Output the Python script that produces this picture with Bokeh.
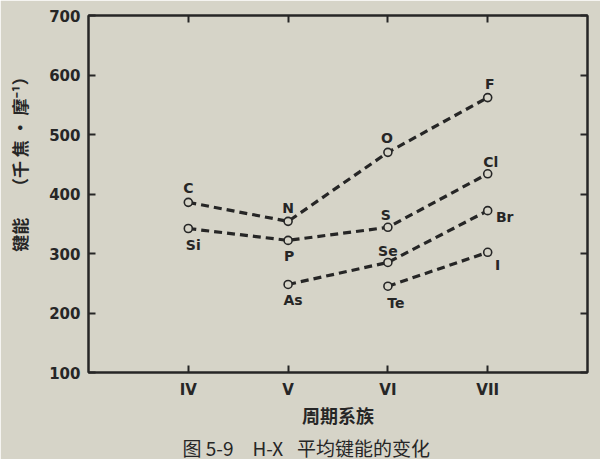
from bokeh.plotting import figure
from bokeh.models import ColumnDataSource, Range1d, LinearAxis, FixedTicker, Title
from bokeh.core.properties import value
from bokeh.embed import file_html
from bokeh.resources import INLINE

# ---- data -------------------------------------------------------------
group_ticks = ["IV", "V", "VI", "VII"]
y_ticks = [100, 200, 300, 400, 500, 600, 700]

p2_groups = ["IV", "V", "VI", "VII"]
p2_elements = ["C", "N", "O", "F"]
p2_energy = [386, 354, 470, 562]

p3_groups = ["IV", "V", "VI", "VII"]
p3_elements = ["Si", "P", "S", "Cl"]
p3_energy = [342, 322, 344, 434]

p4_groups = ["V", "VI", "VII"]
p4_elements = ["As", "Se", "Br"]
p4_energy = [248, 285, 372]

p5_groups = ["VI", "VII"]
p5_elements = ["Te", "I"]
p5_energy = [245, 302]

y_label = "\u3000\u3000\u3000\u3000键能\u3000\u2004（千 焦 · 摩⁻¹）"
x_label = "周期系族"
caption = "图 5-9\u3000H-X\u2002 平均键能的变化"

# label placement (screen px offsets from the point)
label_offsets = {
    "C": (0, -14), "N": (0, -13), "O": (-1, -14), "F": (2, -14),
    "Si": (5, 16), "P": (1, 16), "S": (-2, -12), "Cl": (3, -12),
    "As": (5, 16), "Se": (0, -11), "Br": (17, 6),
    "Te": (8, 17), "I": (10, 13),
}

# ---- style ------------------------------------------------------------
PAPER = "#d6d4c8"
INK = "#262626"
SANS = "DejaVu Sans"
CJK = "Noto Sans CJK SC"

pos = {g: i + 1 for i, g in enumerate(group_ticks)}

p = figure(frame_width=499, frame_height=357, output_backend="svg",
           toolbar_location=None,
           x_range=Range1d(0, 5), y_range=Range1d(100, 700),
           min_border_left=88, min_border_right=13, min_border_top=15,
           min_border_bottom=0)
p.background_fill_color = PAPER
p.border_fill_color = PAPER
p.outline_line_color = INK
p.outline_line_width = 2
p.xgrid.visible = False
p.ygrid.visible = False

series = [(p2_groups, p2_elements, p2_energy),
          (p3_groups, p3_elements, p3_energy),
          (p4_groups, p4_elements, p4_energy),
          (p5_groups, p5_elements, p5_energy)]

for groups, elems, energy in series:
    src = ColumnDataSource(dict(
        x=[pos[g] for g in groups], y=energy, t=elems,
        dx=[label_offsets[e][0] for e in elems],
        dy=[label_offsets[e][1] for e in elems]))
    p.line("x", "y", source=src, line_color=INK, line_width=3.2,
           line_dash="8 5")
    p.scatter("x", "y", source=src, size=8, fill_color=PAPER,
              line_color=INK, line_width=1.6)
    p.text("x", "y", text="t", source=src, x_offset="dx", y_offset="dy",
           text_align="center", text_baseline="middle",
           text_font=value(SANS), text_font_size="14px",
           text_font_style="bold", text_color=INK)

# axes
xa = p.xaxis[0]
xa.ticker = FixedTicker(ticks=[pos[g] for g in group_ticks])
xa.major_label_overrides = {pos[g]: g for g in group_ticks}
ya = p.yaxis[0]
ya.ticker = FixedTicker(ticks=y_ticks)

for ax in (xa, ya):
    ax.axis_line_color = INK
    ax.axis_line_width = 2
    ax.major_tick_in = 7
    ax.major_tick_out = 0
    ax.major_tick_line_color = INK
    ax.major_tick_line_width = 2
    ax.minor_tick_line_color = None
    ax.major_label_text_font = SANS
    ax.major_label_text_font_size = "15px"
    ax.major_label_text_font_style = "bold"
    ax.major_label_text_color = INK
    ax.major_label_standoff = 8
    ax.axis_label_text_font = CJK
    ax.axis_label_text_font_style = "bold"
    ax.axis_label_text_color = INK

xa.axis_label = x_label
xa.axis_label_text_font_size = "18px"
xa.axis_label_standoff = 0
ya.axis_label = y_label
ya.axis_label_text_font_size = "17px"
ya.axis_label_standoff = 14

# mirrored ticks on top and right (labels not drawn)
for place, tks in (("above", [pos[g] for g in group_ticks]), ("right", y_ticks)):
    ax = LinearAxis(ticker=FixedTicker(ticks=tks))
    ax.axis_line_color = INK
    ax.axis_line_width = 2
    ax.major_tick_in = 7
    ax.major_tick_out = 0
    ax.major_tick_line_color = INK
    ax.major_tick_line_width = 2
    ax.minor_tick_line_color = None
    ax.major_label_text_font_size = "1px"
    ax.major_label_text_color = None
    ax.major_label_standoff = 0
    p.add_layout(ax, place)

cap = Title(text=caption, align="left", offset=94, text_font=CJK,
            text_font_size="19px", text_font_style="normal",
            text_color=INK, standoff=2)
p.add_layout(cap, "below")

open("out.html", "w").write(file_html(p, INLINE))
